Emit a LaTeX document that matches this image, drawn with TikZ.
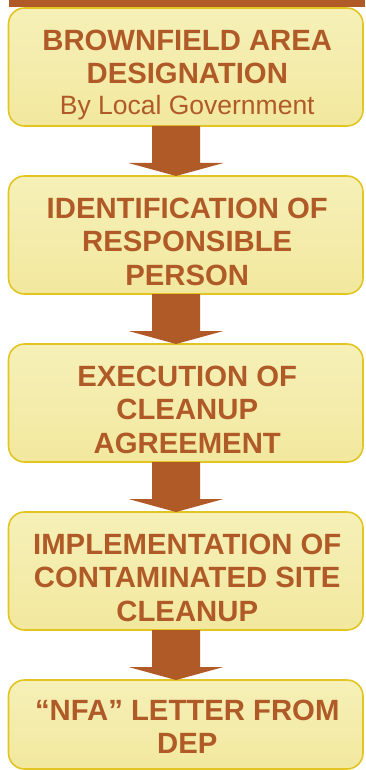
\documentclass[tikz,border=0pt]{standalone}
\usepackage{fontspec}
\setmainfont{Liberation Sans}
\usetikzlibrary{calc}
\definecolor{boxfillA}{HTML}{F6F0B8}
\definecolor{boxfillB}{HTML}{F2E89E}
\definecolor{boxline}{HTML}{E2C422}
\definecolor{brownc}{HTML}{B05A27}
\begin{document}
\begin{tikzpicture}[x=1pt,y=-1pt,
  stepbox/.style={rounded corners=16pt, draw=boxline, line width=1.6pt,
    top color=boxfillA, bottom color=boxfillB, minimum width=354.5pt,
    outer sep=0pt, inner sep=0pt},
  steptext/.style={anchor=north, inner sep=0pt, outer sep=0pt, align=center, text=brownc,
    font=\fontsize{29.3}{33.3}\selectfont\bfseries},
  arr/.style={fill=brownc}]
\useasboundingbox (0,0) rectangle (365,770);
\fill[brownc] (8.5,0) rectangle (365,7);
\node[stepbox, minimum height=118pt] (b1) at (185.75,67) {};
\node[stepbox, minimum height=118pt] (b2) at (185.75,235) {};
\node[stepbox, minimum height=118pt] (b3) at (185.75,403) {};
\node[stepbox, minimum height=118pt] (b4) at (185.75,571) {};
\node[stepbox, minimum height=89pt] (b5) at (185.75,724.5) {};
\node[steptext] (t1) at ($(b1.north)+(1.5,22)$) {BROWNFIELD AREA\\DESIGNATION\\[-3pt]{\fontsize{26.5}{30}\selectfont\mdseries By Local Government}};
\node[steptext] (t2) at ($(b2.north)+(1.5,22)$) {IDENTIFICATION OF\\RESPONSIBLE\\PERSON};
\node[steptext] (t3) at ($(b3.north)+(1.5,22)$) {EXECUTION OF\\CLEANUP\\AGREEMENT};
\node[steptext] (t4) at ($(b4.north)+(1.5,22)$) {IMPLEMENTATION OF\\CONTAMINATED SITE\\CLEANUP};
\node[steptext] (t5) at ($(b5.north)+(1.5,20)$) {“NFA” LETTER FROM\\DEP};
\coordinate (ax) at (176,0);
\foreach \a/\b in {b1/b2,b2/b3,b3/b4,b4/b5}{
  \fill[arr] ($(\a.south -| ax)+(-24,0)$) -- ($(\a.south -| ax)+(24,0)$)
    -- ($(\a.south -| ax)+(24,37)$) -- ($(\a.south -| ax)+(47.5,37)$)
    -- (\b.north -| ax) -- ($(\a.south -| ax)+(-47.5,37)$)
    -- ($(\a.south -| ax)+(-24,37)$) -- cycle;
}
\end{tikzpicture}
\end{document}
